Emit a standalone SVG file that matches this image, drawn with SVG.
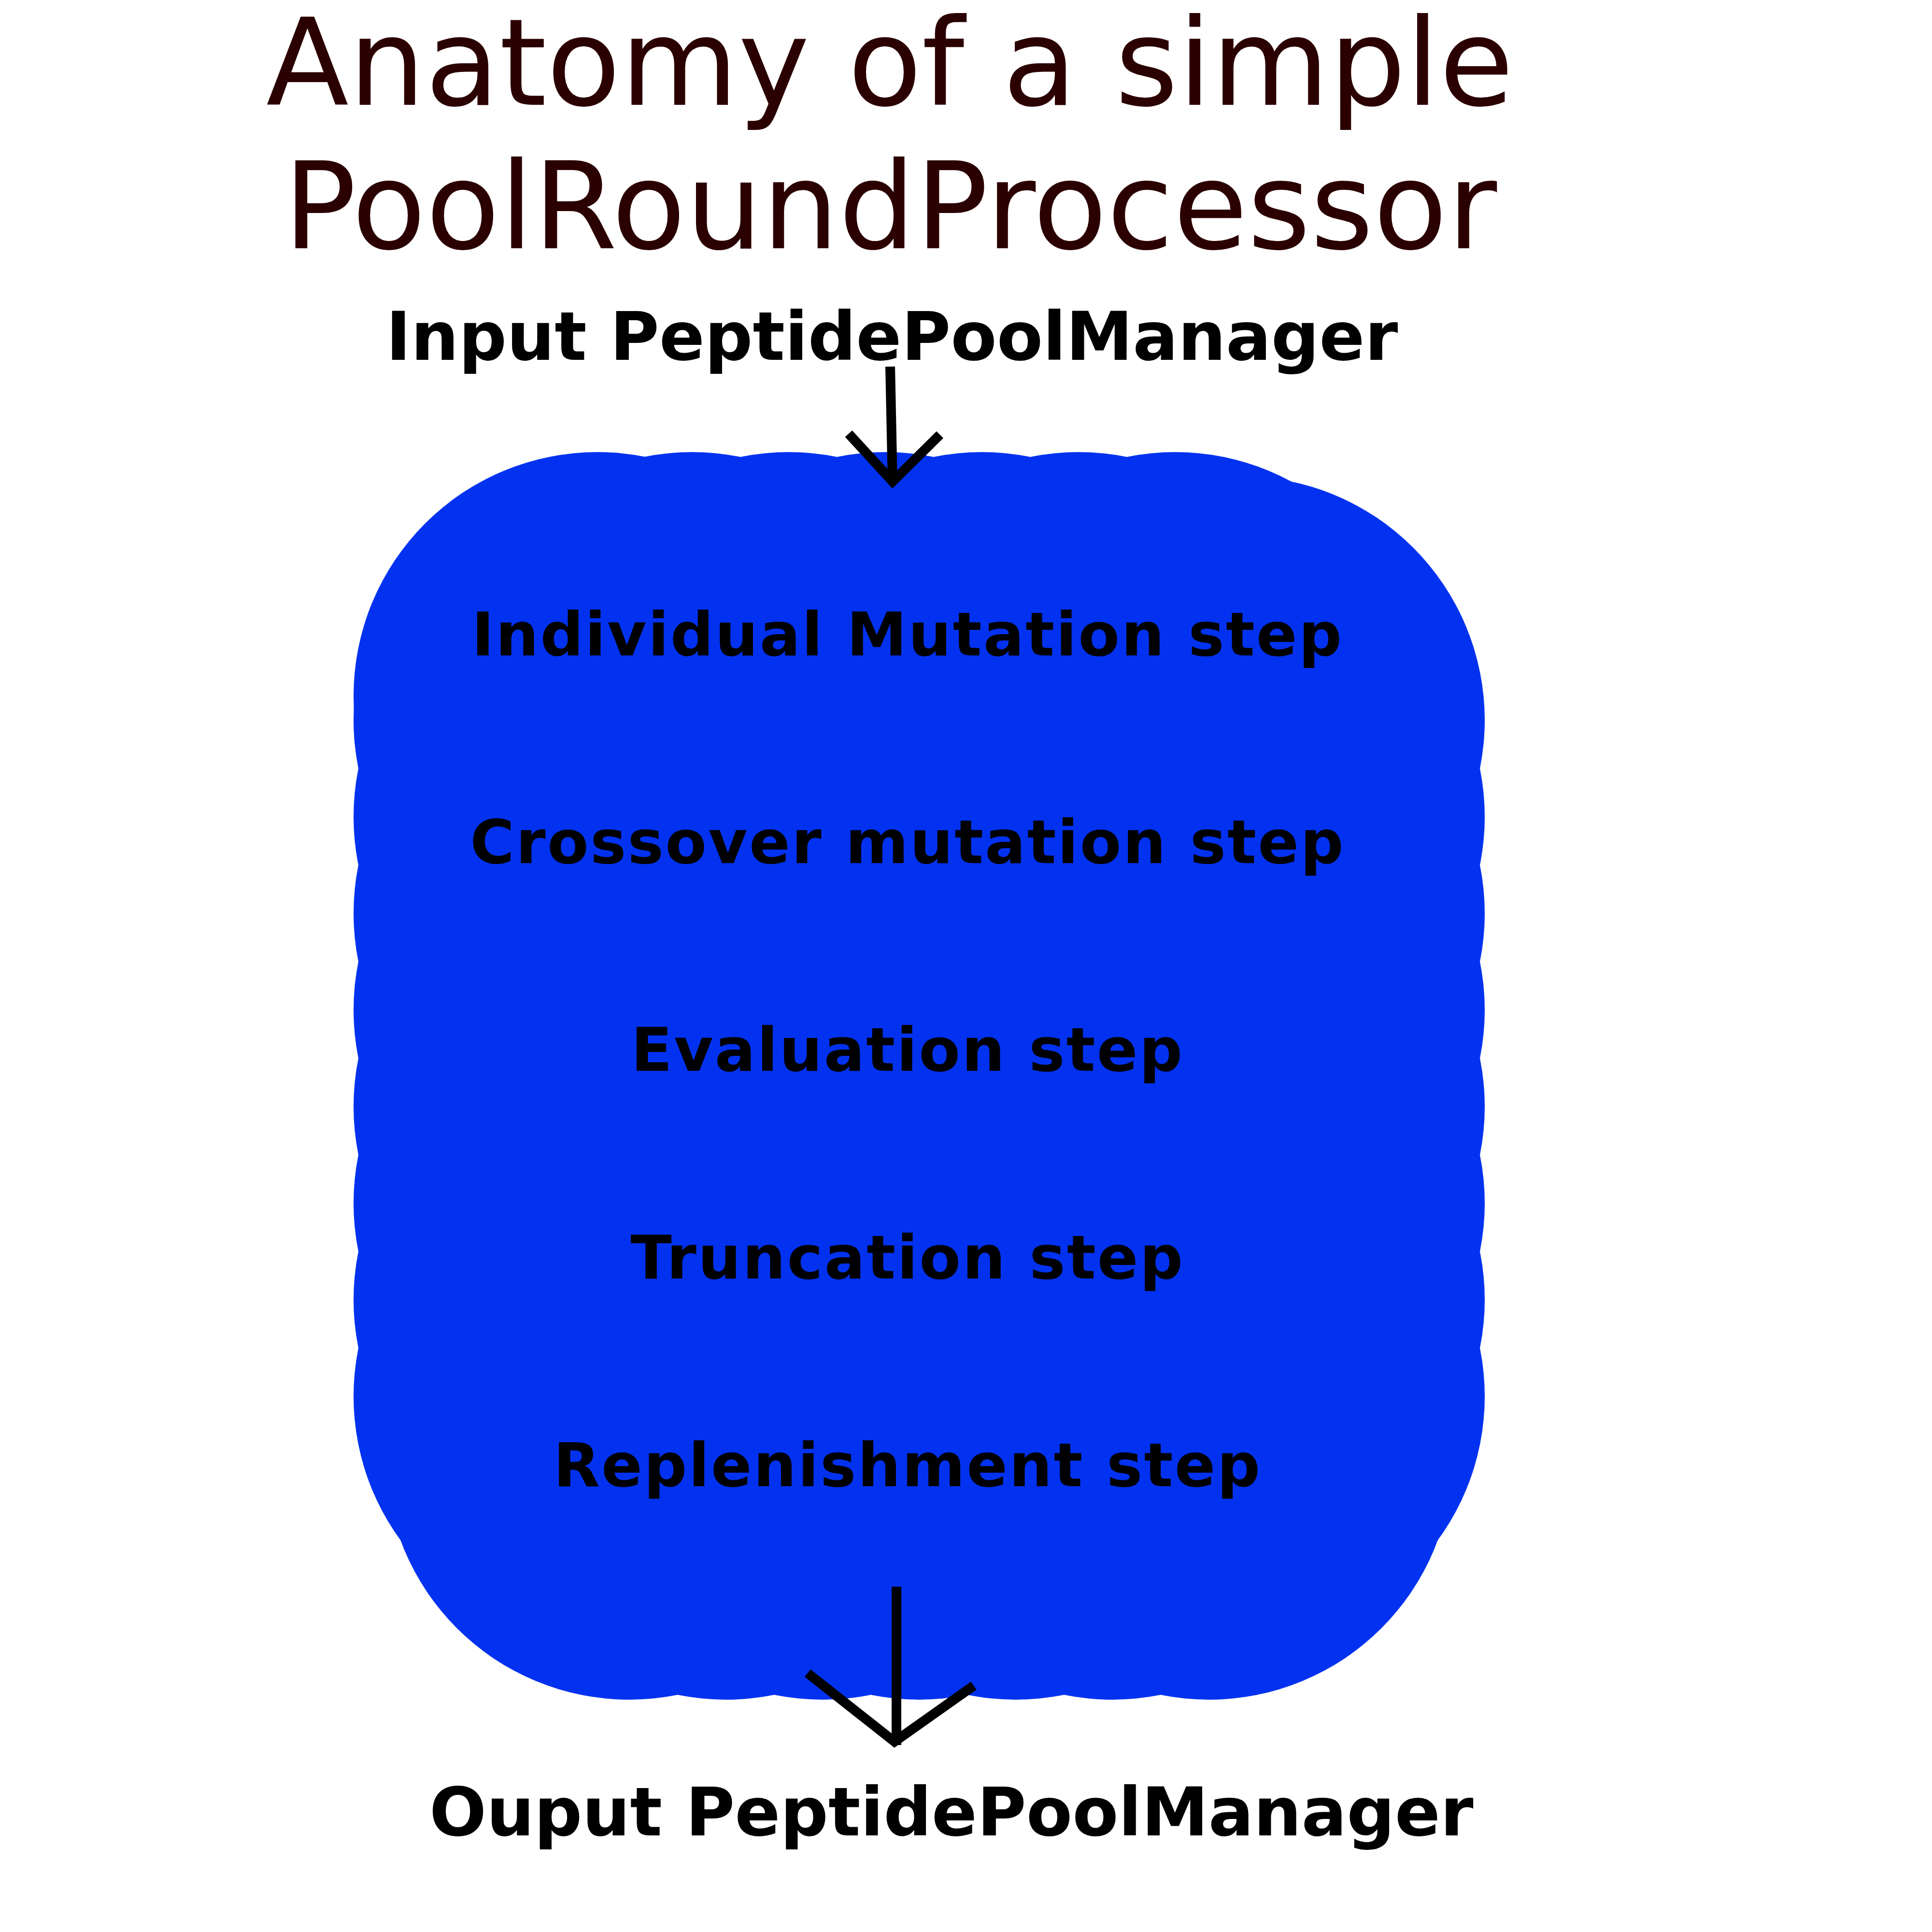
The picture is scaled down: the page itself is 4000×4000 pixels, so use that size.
<svg xmlns="http://www.w3.org/2000/svg" width="4000" height="4000" viewBox="0 0 4000 4000">
  <style>
    .title { font-family: "DejaVu Sans", "Liberation Sans", sans-serif; font-size: 250px; fill: #2b0000; }
    .label { font-family: "DejaVu Sans", "Liberation Sans", sans-serif; font-size: 139px; font-weight: bold; fill: #000000; }
    .step { font-family: "DejaVu Sans", "Liberation Sans", sans-serif; font-size: 125px; font-weight: bold; fill: #000000; letter-spacing: 3.2px; text-anchor: middle; }
    .blob { fill: #0232f0; }
    .conn { fill: none; stroke: #000000; stroke-width: 20; stroke-linecap: butt; stroke-linejoin: miter; stroke-miterlimit: 10; }
  </style>
  <rect x="0" y="0" width="4000" height="4000" fill="#ffffff"/>

  <g id="title">
    <text class="title" x="551" y="217">Anatomy of a simple</text>
    <text class="title" x="587" y="514">PoolRoundProcessor</text>
  </g>

  <g id="input-manager">
    <text class="label" x="799" y="745">Input PeptidePoolManager</text>
  </g>

  <g id="pool-round-processor">
    <g class="blob">
      <rect x="1237" y="1441" width="1332" height="1573"/>
      <circle cx="1237" cy="1441" r="505"/>
      <circle cx="1433" cy="1441" r="505"/>
      <circle cx="1633" cy="1441" r="505"/>
      <circle cx="1833" cy="1441" r="505"/>
      <circle cx="2033" cy="1441" r="505"/>
      <circle cx="2233" cy="1441" r="505"/>
      <circle cx="2433" cy="1441" r="505"/>
      <circle cx="1237" cy="1491" r="505"/>
      <circle cx="1237" cy="1691" r="505"/>
      <circle cx="1237" cy="1891" r="505"/>
      <circle cx="1237" cy="2091" r="505"/>
      <circle cx="1237" cy="2291" r="505"/>
      <circle cx="1237" cy="2491" r="505"/>
      <circle cx="1237" cy="2691" r="505"/>
      <circle cx="1237" cy="2891" r="505"/>
      <circle cx="2569" cy="1491" r="505"/>
      <circle cx="2569" cy="1691" r="505"/>
      <circle cx="2569" cy="1891" r="505"/>
      <circle cx="2569" cy="2091" r="505"/>
      <circle cx="2569" cy="2291" r="505"/>
      <circle cx="2569" cy="2491" r="505"/>
      <circle cx="2569" cy="2691" r="505"/>
      <circle cx="2569" cy="2891" r="505"/>
      <circle cx="1303" cy="3014" r="505"/>
      <circle cx="1503" cy="3014" r="505"/>
      <circle cx="1703" cy="3014" r="505"/>
      <circle cx="1903" cy="3014" r="505"/>
      <circle cx="2103" cy="3014" r="505"/>
      <circle cx="2303" cy="3014" r="505"/>
      <circle cx="2503" cy="3014" r="505"/>
    </g>
    <text class="step" x="1879" y="1357">Individual Mutation step</text>
    <text class="step" x="1879" y="1787">Crossover mutation step</text>
    <text class="step" x="1879" y="2217">Evaluation step</text>
    <text class="step" x="1879" y="2647">Truncation step</text>
    <text class="step" x="1879" y="3077">Replenishment step</text>
  </g>

  <g id="output-manager">
    <text class="label" x="889" y="3800">Ouput PeptidePoolManager</text>
  </g>

  <g id="connectors">
    <g id="input-arrow">
      <line class="conn" x1="1843" y1="759" x2="1848" y2="1000"/>
      <polyline class="conn" points="1757,898 1848,997 1946,900"/>
    </g>
    <g id="output-arrow">
      <line class="conn" x1="1856" y1="3285" x2="1856" y2="3613"/>
      <polyline class="conn" points="1672,3464 1852,3606 2016,3490"/>
    </g>
  </g>
</svg>
